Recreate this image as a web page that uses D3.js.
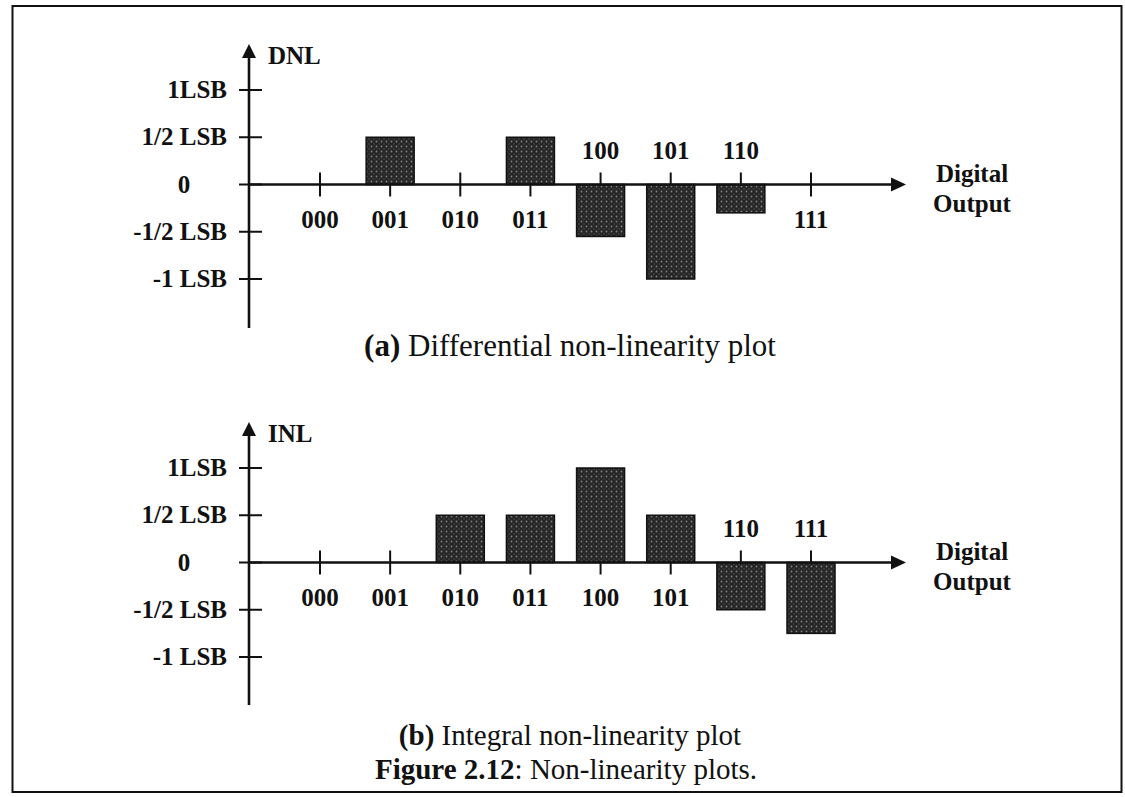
<!DOCTYPE html>
<html>
<head>
<meta charset="utf-8">
<script src="https://cdn.jsdelivr.net/npm/d3@7"></script>
<style>
  body { margin: 0; background: #fff; }
  svg text { font-family: "Liberation Serif", "Times New Roman", serif; fill: #111; }
</style>
</head>
<body>
<svg id="chart" width="1125" height="797"></svg>
<script>
// codes on the x axis
const codes = ["000", "001", "010", "011", "100", "101", "110", "111"];
// DNL values (LSB)
const dnlValues = [0, 0.5, 0, 0.5, -0.55, -1, -0.3, 0];
// INL values (LSB)
const inlValues = [0, 0, 0.5, 0.5, 1, 0.5, -0.5, -0.75];
// y ticks
const yTicks = [1, 0.5, 0, -0.5, -1];
const yTickLabels = ["1LSB", "1/2 LSB", "0", "-1/2 LSB", "-1 LSB"];

const svg = d3.select("#chart");

// stipple fill for the bars
const defs = svg.append("defs");
const pat = defs.append("pattern")
  .attr("id", "dots")
  .attr("width", 5).attr("height", 5)
  .attr("patternUnits", "userSpaceOnUse");
pat.append("rect").attr("width", 5).attr("height", 5).attr("fill", "#262626");
pat.append("circle").attr("cx", 1.5).attr("cy", 1.5).attr("r", 0.9).attr("fill", "#808080");
pat.append("circle").attr("cx", 4).attr("cy", 4).attr("r", 0.7).attr("fill", "#555");

// frame
svg.append("rect")
  .attr("x", 12.5).attr("y", 6).attr("width", 1109).attr("height", 786)
  .attr("fill", "none").attr("stroke", "#111").attr("stroke-width", 2);

function drawPanel(values, top, bottom, axisEnd, yLabel, caption, capY, capSize) {
  const x = d3.scaleLinear().domain([0, codes.length - 1]).range([320, 811]);
  const y = d3.scaleLinear().domain([-1, 1]).range([bottom, top]);
  const x0 = 249;
  const zero = y(0);
  const g = svg.append("g");

  // bars
  const barW = 48;
  g.selectAll("rect.bar")
    .data(values.map((v, i) => ({ v: v, i: i })).filter(d => d.v !== 0))
    .enter().append("rect")
    .attr("class", "bar")
    .attr("x", d => x(d.i) - barW / 2)
    .attr("width", barW)
    .attr("y", d => Math.min(y(d.v), zero))
    .attr("height", d => Math.abs(y(d.v) - zero))
    .attr("fill", "url(#dots)")
    .attr("stroke", "#111")
    .attr("stroke-width", 1.5);

  // y axis
  const yTop = y(1) - 46;
  g.append("line")
    .attr("x1", x0).attr("x2", x0)
    .attr("y1", yTop + 10).attr("y2", axisEnd)
    .attr("stroke", "#111").attr("stroke-width", 2.6);
  g.append("path")
    .attr("d", `M${x0},${yTop} L${x0 - 7},${yTop + 14} L${x0 + 7},${yTop + 14} Z`)
    .attr("fill", "#111");
  g.append("text")
    .attr("x", x0 + 19).attr("y", yTop + 20)
    .attr("font-size", 25).attr("font-weight", "bold")
    .text(yLabel);

  yTicks.forEach((t, i) => {
    g.append("line")
      .attr("x1", x0 - 10).attr("x2", x0 + 13)
      .attr("y1", y(t)).attr("y2", y(t))
      .attr("stroke", "#111").attr("stroke-width", 2);
    g.append("text")
      .attr("x", t === 0 ? 184 : 227)
      .attr("y", y(t) + 8)
      .attr("text-anchor", t === 0 ? "middle" : "end")
      .attr("font-size", 25).attr("font-weight", "bold")
      .text(yTickLabels[i]);
  });

  // x axis with arrow
  const xEnd = 906;
  g.append("line")
    .attr("x1", x0).attr("x2", xEnd - 12)
    .attr("y1", zero).attr("y2", zero)
    .attr("stroke", "#111").attr("stroke-width", 2.6);
  g.append("path")
    .attr("d", `M${xEnd},${zero} L${xEnd - 15},${zero - 7} L${xEnd - 15},${zero + 7} Z`)
    .attr("fill", "#111");

  codes.forEach((c, i) => {
    const v = values[i];
    const up = v > 0 ? 0 : 12;
    const down = v < 0 ? 0 : 12;
    g.append("line")
      .attr("x1", x(i)).attr("x2", x(i))
      .attr("y1", zero - up).attr("y2", zero + down)
      .attr("stroke", "#111").attr("stroke-width", 2);
    g.append("text")
      .attr("x", x(i))
      .attr("y", v < 0 ? zero - 26 : zero + 43)
      .attr("text-anchor", "middle")
      .attr("font-size", 25).attr("font-weight", "bold")
      .text(c);
  });

  g.append("text")
    .attr("x", 972).attr("y", zero - 3)
    .attr("text-anchor", "middle")
    .attr("font-size", 25).attr("font-weight", "bold")
    .text("Digital");
  g.append("text")
    .attr("x", 972).attr("y", zero + 27)
    .attr("text-anchor", "middle")
    .attr("font-size", 25).attr("font-weight", "bold")
    .text("Output");

  const cap = g.append("text")
    .attr("x", 570).attr("y", capY)
    .attr("text-anchor", "middle")
    .attr("font-size", capSize);
  cap.append("tspan").attr("font-weight", "bold").text(caption[0]);
  cap.append("tspan").text(caption[1]);
}

drawPanel(dnlValues, 90, 279, 328, "DNL", ["(a)", " Differential non-linearity plot"], 356, 31);
drawPanel(inlValues, 468, 657, 705, "INL", ["(b)", " Integral non-linearity plot"], 745, 29);

const fig = svg.append("text")
  .attr("x", 566).attr("y", 779)
  .attr("text-anchor", "middle")
  .attr("font-size", 29);
fig.append("tspan").attr("font-weight", "bold").text("Figure 2.12");
fig.append("tspan").text(": Non-linearity plots.");
</script>
</body>
</html>
